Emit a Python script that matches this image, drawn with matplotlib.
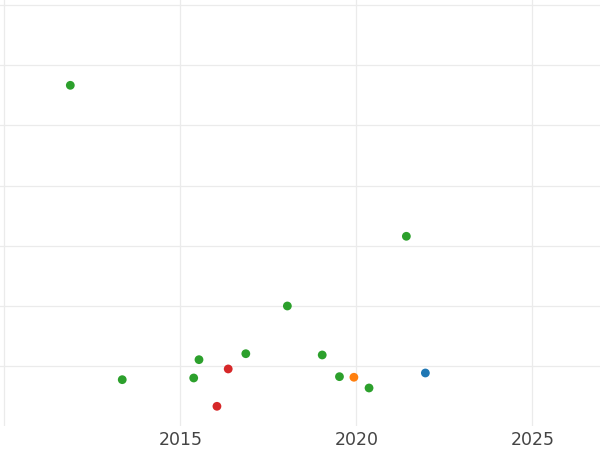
import matplotlib
matplotlib.use("Agg")
import matplotlib.pyplot as plt

years = [2011.875, 2013.35, 2015.38, 2015.53, 2016.36, 2016.04, 2016.86,
         2018.04, 2021.42, 2019.03, 2019.52, 2019.93, 2020.36, 2021.96]
values = [4.667, -0.219, -0.191, 0.113, -0.041, -0.661, 0.212,
          1.004, 2.161, 0.191, -0.169, -0.179, -0.357, -0.108]
groups = ["g", "g", "g", "g", "r", "r", "g",
          "g", "g", "g", "g", "o", "g", "b"]
palette = {"g": "#2ca02c", "r": "#d62728", "o": "#ff7f0e", "b": "#1f77b4"}
xticks = [2010, 2015, 2020, 2025]
xticklabels = ["", "2015", "2020", "2025"]
yticks = [0, 1, 2, 3, 4, 5, 6]

fig = plt.figure(figsize=(6, 4.5), dpi=100)
ax = fig.add_axes([0, 24 / 450, 1, 426 / 450])
ax.scatter(years, values, c=[palette[g] for g in groups], s=40,
           edgecolors="none", zorder=3)
ax.set_xlim(2009.878, 2026.92)
ax.set_ylim(-0.988, 6.083)
ax.set_xticks(xticks)
ax.set_xticklabels(xticklabels, fontsize=12.5, color="#444444")
ax.set_yticks(yticks)
ax.set_yticklabels([])
ax.tick_params(length=0, pad=3.5)
ax.grid(True, color="#ebebeb", linewidth=0.9)
ax.set_axisbelow(True)
for s in ax.spines.values():
    s.set_visible(False)
fig.savefig("out.png", dpi=100)
